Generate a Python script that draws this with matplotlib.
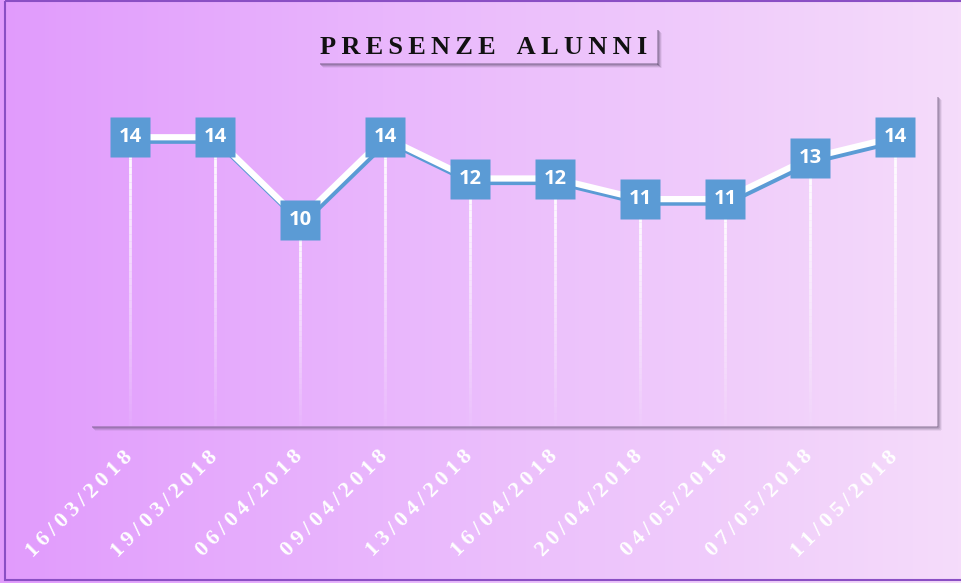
import numpy as np
import matplotlib.pyplot as plt
import matplotlib.patheffects as pe
from matplotlib.patches import Rectangle
from matplotlib.collections import LineCollection
from matplotlib.colors import LinearSegmentedColormap

# data
dates = ["16/03/2018", "19/03/2018", "06/04/2018", "09/04/2018", "13/04/2018",
         "16/04/2018", "20/04/2018", "04/05/2018", "07/05/2018", "11/05/2018"]
presenze = [14, 14, 10, 14, 12, 12, 11, 11, 13, 14]
titolo = "PRESENZE ALUNNI"

TS = "\u2009"  # thin space used as letter spacing
serif = ["Liberation Serif", "DejaVu Serif"]

W, H = 962, 583
fig = plt.figure(figsize=(W / 100, H / 100), dpi=100)

# background gradient + frame, in pixel coordinates
bg = fig.add_axes([0, 0, 1, 1], zorder=-5)
bg.set_xlim(0, W)
bg.set_ylim(H, 0)
bg.axis("off")
cmap = LinearSegmentedColormap.from_list("bgc", ["#e19bfc", "#ebbdfc", "#f5dcfa"])
grad = np.linspace(0, 1, 256).reshape(1, -1)
bg.imshow(grad, cmap=cmap, aspect="auto", extent=[0, W, H, 0])
bg.add_patch(Rectangle((5, 1), W, 579, fill=False, ec="#8a4fc4", lw=1.5))

# plot area shadow (right + bottom)
for i, a in enumerate([0.35, 0.25, 0.15, 0.08]):
    bg.add_patch(Rectangle((937 + i, 97 + i), 2, 330, color="#5a4a6a", alpha=a, lw=0))
    bg.add_patch(Rectangle((92 + i, 426 + i), 846, 2, color="#5a4a6a", alpha=a, lw=0))

# title box with shadow
for i, a in enumerate([0.4, 0.28, 0.16, 0.08]):
    bg.add_patch(Rectangle((657 + i, 30 + i), 2, 35, color="#5a4a6a", alpha=a, lw=0))
    bg.add_patch(Rectangle((320 + i, 63 + i), 338, 2, color="#5a4a6a", alpha=a, lw=0))
spaced_title = (TS * 4).join(TS.join(w) for w in titolo.split(" "))
bg.text(484, 47, spaced_title, ha="center", va="center", fontsize=19,
        family=serif, weight="bold", color="#111111")

ax = fig.add_axes([87.5 / W, 157 / H, 850 / W, 330 / H])
ax.patch.set_alpha(0)
x = np.arange(len(presenze))
ax.set_xlim(-0.5, len(presenze) - 0.5)
ax.set_ylim(0, 16)
for s in ax.spines.values():
    s.set_visible(False)
ax.set_yticks([])

# fading drop lines
for xi, v in zip(x, presenze):
    ys = np.linspace(v, 0, 40)
    segs = [[(xi, ys[k]), (xi, ys[k + 1])] for k in range(len(ys) - 1)]
    alphas = np.linspace(1, 0.05, len(segs))
    cols = [(1, 1, 1, a) for a in alphas]
    ax.add_collection(LineCollection(segs, colors=cols, linewidths=2.0, zorder=1))

ax.plot(x, presenze, color="white", lw=4.5, solid_capstyle="butt", zorder=2,
        path_effects=[pe.SimpleLineShadow(offset=(1.5, -2.5), shadow_color="#5b9bd5", alpha=1),
                      pe.Normal()])
ax.plot(x, presenze, ls="none", marker="s", ms=28.5, mfc="#5b9bd5", mec="none", zorder=3)

for xi, v in zip(x, presenze):
    ax.text(xi, v, str(v), ha="center", va="center", fontsize=14.5, weight="bold",
            family="Open Sans", color="white", zorder=4)

ax.set_xticks(x)
ax.set_xticklabels([TS.join(d) for d in dates], rotation=45, ha="right", va="center",
                   rotation_mode="anchor", fontsize=16, family=serif, weight="bold",
                   color="white")
ax.tick_params(axis="x", length=0, pad=20)

fig.savefig("out.png", dpi=100)
